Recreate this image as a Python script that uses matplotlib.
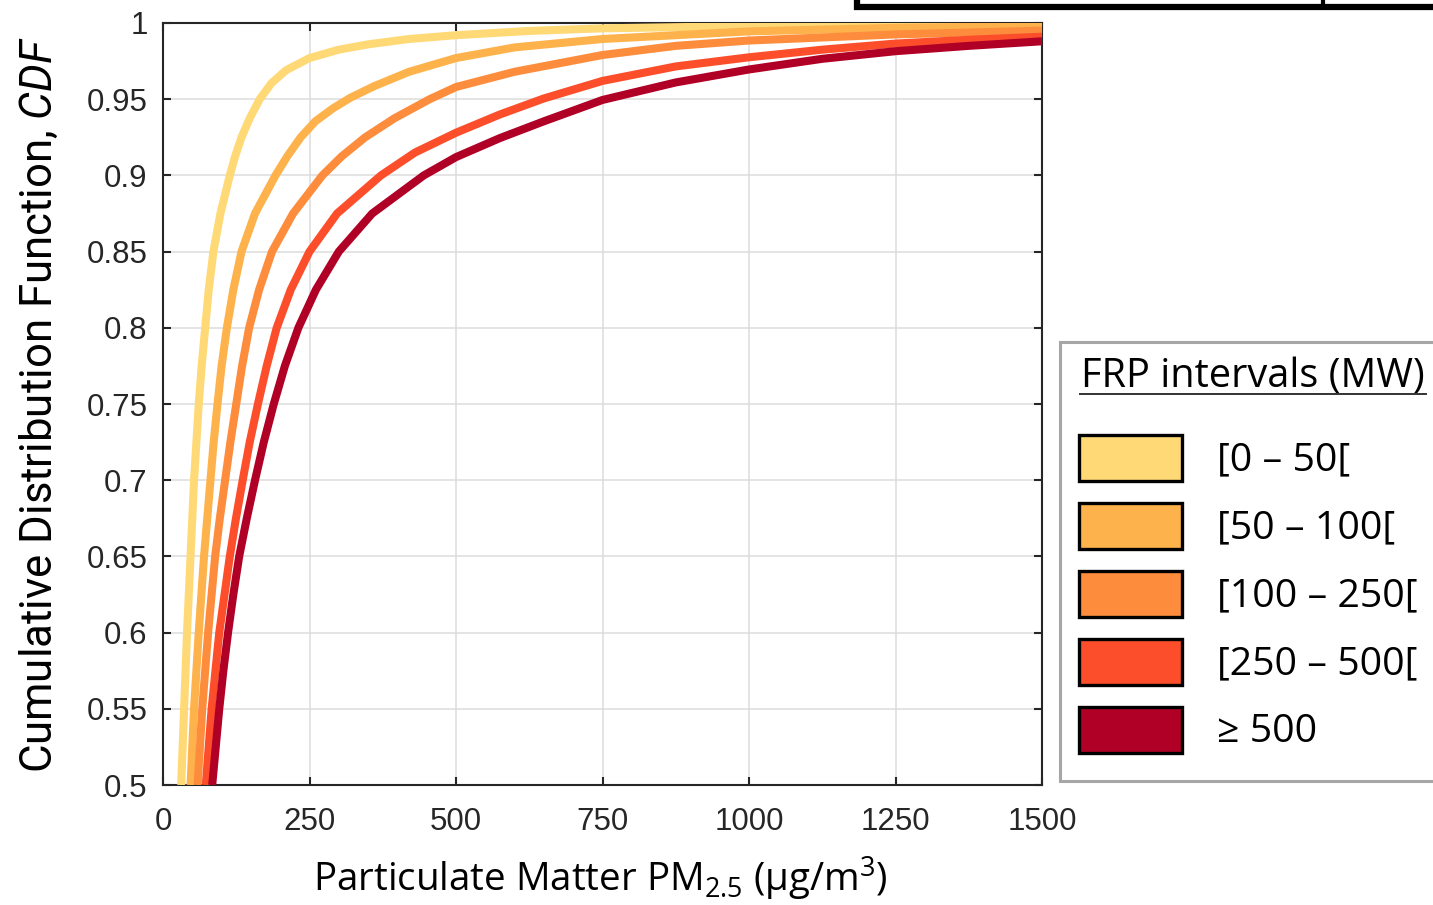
import matplotlib
matplotlib.use("Agg")
import matplotlib.pyplot as plt
from matplotlib.patches import Rectangle
from matplotlib.lines import Line2D
from matplotlib.ticker import FuncFormatter, MultipleLocator

# Empirical CDF of PM2.5 per FRP interval: (concentration, cumulative probability)
labels = ["[0 – 50[", "[50 – 100[", "[100 – 250[", "[250 – 500[", "≥ 500"]
colors = ["#FED976", "#FEB24C", "#FD8D3C", "#FC4E2A", "#B10026"]

pm_0_50 = [31, 36, 41, 47, 53, 61, 66, 72, 78, 86, 98, 114, 123, 134, 148, 165,
           185, 210, 250, 300, 350, 420, 500, 625, 750, 1000, 1250, 1500]
cdf_0_50 = [0.50, 0.55, 0.60, 0.65, 0.70, 0.75, 0.775, 0.80, 0.825, 0.85, 0.875, 0.90, 0.9125,
            0.925, 0.9375, 0.95, 0.9605, 0.969, 0.977, 0.9825, 0.986, 0.9895, 0.992, 0.9948,
            0.9965, 0.998, 0.9988, 0.9993]

pm_50_100 = [47, 53, 61, 70, 81, 86.5, 93, 100, 109, 120, 134, 157, 192, 212, 235,
             260, 290, 320, 360, 420, 500, 600, 750, 1000, 1250, 1500]
cdf_50_100 = [0.50, 0.55, 0.60, 0.65, 0.70, 0.725, 0.75, 0.775, 0.80, 0.825, 0.85, 0.875, 0.90,
              0.9125, 0.925, 0.9355, 0.944, 0.951, 0.9585, 0.968, 0.977, 0.984, 0.9895, 0.9945,
              0.9968, 0.998]

pm_100_250 = [59, 67, 77, 89, 97, 106, 115, 125, 135, 147, 164, 186, 222, 272, 305, 345, 395,
              455, 500, 600, 750, 875, 1000, 1250, 1500]
cdf_100_250 = [0.50, 0.55, 0.60, 0.65, 0.675, 0.70, 0.725, 0.75, 0.775, 0.80, 0.825, 0.85, 0.875,
               0.90, 0.9125, 0.925, 0.9375, 0.95, 0.958, 0.968, 0.979, 0.985, 0.9885, 0.9925,
               0.995]

pm_250_500 = [73, 83, 96, 114, 124.5, 136, 148, 162, 177, 194, 218, 250, 297, 372, 430, 500,
              575, 650, 750, 875, 1000, 1125, 1250, 1375, 1500]
cdf_250_500 = [0.50, 0.55, 0.60, 0.65, 0.675, 0.70, 0.725, 0.75, 0.775, 0.80, 0.825, 0.85, 0.875,
               0.90, 0.915, 0.928, 0.940, 0.9505, 0.962, 0.9715, 0.9775, 0.9825, 0.9865, 0.989,
               0.991]

pm_500_up = [84, 90, 96, 103, 111, 120, 130, 143, 157, 172, 189, 208, 231, 261, 300, 357, 445,
             500, 575, 650, 750, 875, 1000, 1125, 1250, 1375, 1500]
cdf_500_up = [0.50, 0.525, 0.55, 0.575, 0.60, 0.625, 0.65, 0.675, 0.70, 0.725, 0.75, 0.775, 0.80,
              0.825, 0.85, 0.875, 0.90, 0.912, 0.9245, 0.9355, 0.9495, 0.961, 0.9695, 0.9765,
              0.9815, 0.985, 0.988]

series = [(pm_0_50, cdf_0_50), (pm_50_100, cdf_50_100), (pm_100_250, cdf_100_250),
          (pm_250_500, cdf_250_500), (pm_500_up, cdf_500_up)]

x_ticks = [0, 250, 500, 750, 1000, 1250, 1500]

W, H = 1433, 905
fig = plt.figure(figsize=(W / 100, H / 100), dpi=100)
plt.rcParams["mathtext.fontset"] = "custom"
plt.rcParams["mathtext.rm"] = "Roboto"
plt.rcParams["mathtext.it"] = "Roboto:italic"

def fx(px):
    return px / W

def fy(py):
    return 1 - py / H

ax = fig.add_axes([fx(163), fy(785), fx(1042) - fx(163), fy(23) - fy(785)])
axis_col = "#262626"

for (xs, ys), c in zip(series, colors):
    ax.plot(xs, ys, color=c, lw=5.8, solid_capstyle="butt", solid_joinstyle="round", zorder=3)

ax.set_xlim(0, 1500)
ax.set_ylim(0.5, 1.0)
ax.set_xticks(x_ticks)
ax.yaxis.set_major_locator(MultipleLocator(0.05))
ax.yaxis.set_major_formatter(FuncFormatter(lambda v, p: f"{v:.2f}".rstrip("0").rstrip(".")))
ax.grid(True, color="#dcdcdc", lw=1.1, zorder=0)
ax.set_axisbelow(True)
for s in ax.spines.values():
    s.set_color(axis_col)
    s.set_linewidth(1.5)
ax.tick_params(direction="in", length=6, width=1.5, color=axis_col, labelcolor=axis_col,
               top=True, right=True, labelsize=22.5)
ax.tick_params(axis="x", pad=16)
ax.tick_params(axis="y", pad=11)
for lab in ax.get_xticklabels() + ax.get_yticklabels():
    lab.set_family("Liberation Sans")

# axis titles
fig.text(fx(600), fy(879), r"Particulate Matter PM$_\mathregular{2.5}$ (µg/m$^\mathregular{3}$)",
         ha="center", va="center", fontsize=27.7, family="Open Sans", color="black")
fig.text(fx(40), fy(405), r"Cumulative Distribution Function, $\mathit{CDF}$",
         ha="center", va="center", rotation=90, fontsize=31.5, family="Roboto", color="black")

# legend panel
fig.patches.append(Rectangle((fx(1060), fy(781)), fx(1460) - fx(1060), fy(342) - fy(781),
                             transform=fig.transFigure, facecolor="white", edgecolor="#a6a6a6",
                             lw=2.2, zorder=5))
fig.text(fx(1081), fy(377), "FRP intervals (MW)", ha="left", va="center", fontsize=28.6,
         family="Open Sans", color="black", zorder=6)
fig.lines.append(Line2D([fx(1080), fx(1426)], [fy(394), fy(394)], transform=fig.transFigure,
                        color="#333333", lw=1.4, zorder=6))
row_y = [458, 526, 594, 662, 730]
for py, c, lab in zip(row_y, colors, labels):
    fig.patches.append(Rectangle((fx(1079), fy(py + 23)), fx(103), fy(0) - fy(46),
                                 transform=fig.transFigure, facecolor=c, edgecolor="black",
                                 lw=2.4, zorder=6))
    fig.text(fx(1217), fy(py + 2), lab, ha="left", va="center", fontsize=28.3,
             family=["Open Sans", "DejaVu Sans"], color="black", zorder=6)

# frame fragment of the neighbouring panel along the top edge
fig.lines.append(Line2D([fx(857), fx(857), fx(1433)], [fy(-2), fy(7), fy(7)],
                        transform=fig.transFigure, color="black", lw=4.5,
                        solid_joinstyle="miter"))
fig.lines.append(Line2D([fx(1323), fx(1323)], [fy(-2), fy(7)], transform=fig.transFigure,
                        color="black", lw=3))

fig.savefig("out.png", dpi=100)
